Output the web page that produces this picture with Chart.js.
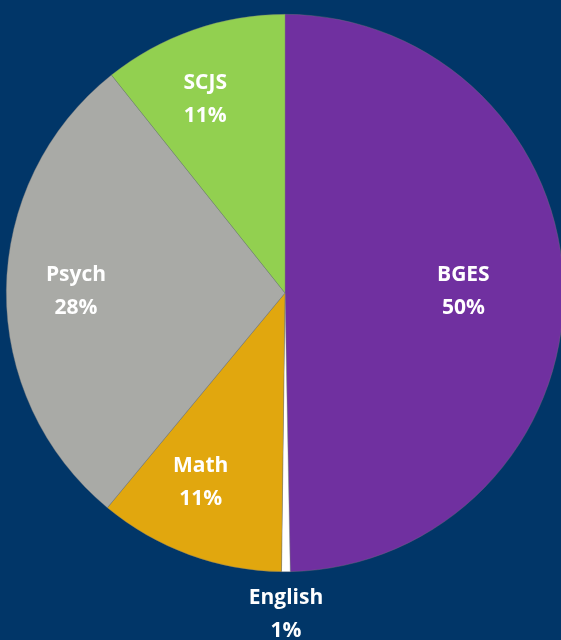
<!DOCTYPE html>
<html>
<head>
<meta charset="utf-8">
<script src="https://cdn.jsdelivr.net/npm/chart.js@4/dist/chart.umd.min.js"></script>
<style>
  html, body { margin: 0; padding: 0; background: #013668; overflow: hidden; }
  #wrap { position: relative; width: 570px; height: 640px; }
</style>
</head>
<body>
<div id="wrap"><canvas id="c" width="570" height="640"></canvas></div>
<script>
const categories = ["BGES", "English", "Math", "Psych", "SCJS"];
const shares = [49.7, 0.5, 10.8, 28.3, 10.7];
const sliceColors = ["#7030A0", "#FFFFFF", "#E1A70E", "#A9AAA6", "#92D050"];
const labelRadius = [0.64, 1.155, 0.745, 0.75, 0.752];
const labelAngleShift = [0, 0, 3.8, 0, -3.1];

const total = shares.reduce((a, b) => a + b, 0);
const labelPlugin = {
  id: 'sliceLabels',
  afterDatasetsDraw(chart) {
    const ctx = chart.ctx;
    const meta = chart.getDatasetMeta(0);
    ctx.save();
    ctx.fillStyle = '#FFFFFF';
    ctx.font = 'bold 21px "Open Sans", "Liberation Sans", sans-serif';
    ctx.textAlign = 'center';
    ctx.textBaseline = 'middle';
    meta.data.forEach((arc, i) => {
      const p = arc.getProps(['x', 'y', 'startAngle', 'endAngle', 'outerRadius'], true);
      const mid = (p.startAngle + p.endAngle) / 2 + labelAngleShift[i] * Math.PI / 180;
      const r = p.outerRadius * labelRadius[i];
      const x = p.x + Math.cos(mid) * r;
      const y = p.y + Math.sin(mid) * r;
      const pct = Math.round(shares[i] / total * 100) + '%';
      ctx.fillText(categories[i], x, y - 16.5);
      ctx.fillText(pct, x, y + 16.5);
    });
    ctx.restore();
  }
};

new Chart(document.getElementById('c'), {
  type: 'pie',
  data: {
    labels: categories,
    datasets: [{
      data: shares,
      backgroundColor: sliceColors,
      borderWidth: 0.6,
      borderColor: 'rgba(120,120,120,0.6)'
    }]
  },
  options: {
    responsive: false,
    animation: false,
    layout: { padding: { left: 6, right: 6, top: 14, bottom: 68 } },
    plugins: {
      legend: { display: false },
      tooltip: { enabled: false }
    }
  },
  plugins: [labelPlugin]
});
</script>
</body>
</html>
